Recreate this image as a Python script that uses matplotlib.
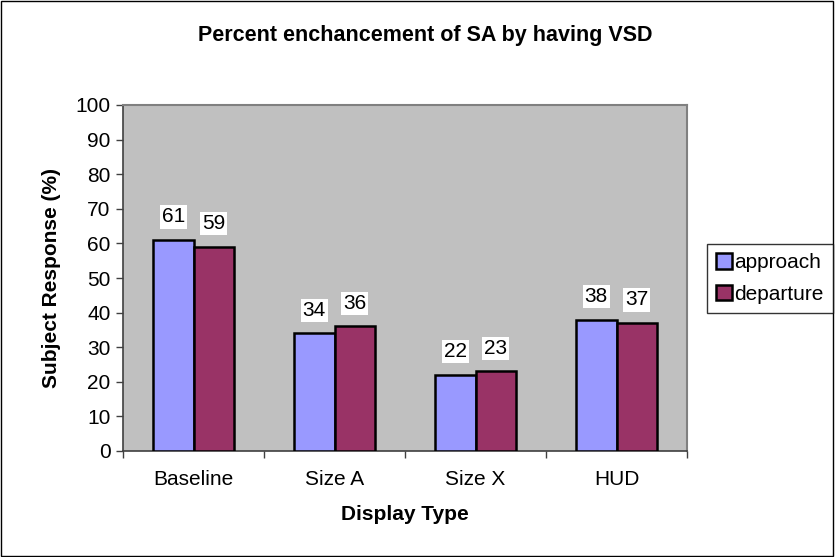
import matplotlib.pyplot as plt
import numpy as np
from matplotlib.patches import Patch

plt.rcParams['font.family'] = ['Liberation Sans', 'DejaVu Sans']

categories = ["Baseline", "Size A", "Size X", "HUD"]
approach = [61, 34, 22, 38]
departure = [59, 36, 23, 37]
series_names = ["approach", "departure"]
colors = ["#9999FF", "#993366"]

fs = 15
W, H = 835, 557

fig = plt.figure(figsize=(W / 100, H / 100), dpi=100)
fig.patches.append(plt.Rectangle((0.001, 0.001), 0.997, 0.997, transform=fig.transFigure,
                                 fill=False, edgecolor="black", linewidth=1))
# plot area in pixels: x 123..687, y 105..451
ax = fig.add_axes([123 / W, 1 - 451 / H, 564 / W, 346 / H])
ax.set_facecolor("#C0C0C0")

x = np.arange(len(categories))
w = 1 / 3.5
for i, (vals, name, col) in enumerate(zip([approach, departure], series_names, colors)):
    pos = x + (i - 0.5) * w
    ax.bar(pos, vals, width=w, color=col, edgecolor="black", linewidth=1.8, label=name, zorder=3)
    for p, v in zip(pos, vals):
        ax.annotate(str(v), (p, v), xytext=(0, 23), textcoords="offset pixels",
                    ha="center", va="center", fontsize=fs,
                    bbox=dict(boxstyle="square,pad=0.1", facecolor="white", edgecolor="none"), zorder=4)

ax.set_xlim(-0.5, len(categories) - 0.5)
ax.set_ylim(0, 100)
ax.set_yticks(range(0, 101, 10))
ax.set_xticks(x)
ax.set_xticklabels(categories, fontsize=fs)
ax.set_xticks(np.arange(-0.5, len(categories)), minor=True)
ax.tick_params(axis="x", which="major", length=0, pad=14)
ax.tick_params(axis="x", which="minor", length=5, width=1, color="#404040")
ax.tick_params(axis="y", length=5, width=1, color="#404040", labelsize=fs, pad=4)

for side in ["left", "bottom"]:
    ax.spines[side].set_color("#404040")
    ax.spines[side].set_linewidth(1.2)
for side in ["top", "right"]:
    ax.spines[side].set_color("#808080")
    ax.spines[side].set_linewidth(1.5)

fig.text(52 / W, 1 - 278 / H, "Subject Response (%)", rotation=90, ha="center", va="center",
         fontsize=fs, fontweight="bold")
fig.text(405 / W, 1 - 514 / H, "Display Type", ha="center", va="center",
         fontsize=fs, fontweight="bold")
fig.text(425 / W, 1 - 36 / H, "Percent enchancement of SA by having VSD", ha="center", va="center",
         fontsize=15.5, fontweight="bold")

handles = [Patch(facecolor=c, edgecolor="black", linewidth=1.8) for c in colors]
leg = fig.legend(handles, series_names, loc="center left", bbox_to_anchor=(707 / W, 1 - 278.5 / H),
                 frameon=True, fancybox=False, shadow=False, fontsize=fs,
                 handlelength=0.75, handleheight=0.75, handletextpad=0.12, borderpad=0.45,
                 labelspacing=0.6, borderaxespad=0)
leg.get_frame().set_edgecolor("black")
leg.get_frame().set_linewidth(1)

fig.savefig("out.png", dpi=100)
